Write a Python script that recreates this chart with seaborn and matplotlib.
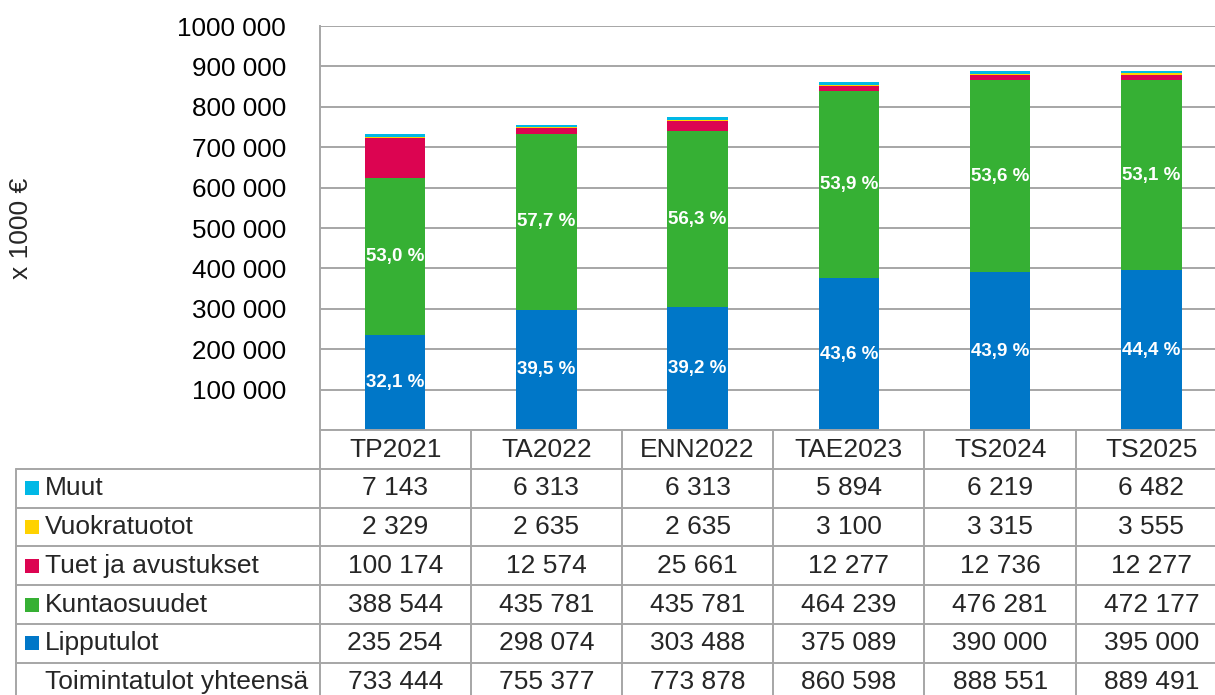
import matplotlib
matplotlib.use("Agg")
import matplotlib.pyplot as plt
import matplotlib.transforms as mtransforms
from matplotlib.patches import Rectangle
import seaborn as sns
import numpy as np

categories = ["TP2021", "TA2022", "ENN2022", "TAE2023", "TS2024", "TS2025"]
lipputulot = [235254, 298074, 303488, 375089, 390000, 395000]
kuntaosuudet = [388544, 435781, 435781, 464239, 476281, 472177]
tuet = [100174, 12574, 25661, 12277, 12736, 12277]
vuokratuotot = [2329, 2635, 2635, 3100, 3315, 3555]
muut = [7143, 6313, 6313, 5894, 6219, 6482]
totals = [733444, 755377, 773878, 860598, 888551, 889491]

series_names = ["Lipputulot", "Kuntaosuudet", "Tuet ja avustukset", "Vuokratuotot", "Muut"]
series_values = [lipputulot, kuntaosuudet, tuet, vuokratuotot, muut]
colors = ["#0077C8", "#36B034", "#DC0451", "#FFD200", "#00B8E6"]

sns.set_style("white")
plt.rcParams["font.family"] = ["Liberation Sans", "DejaVu Sans"]

W, H = 1215, 695
fig = plt.figure(figsize=(W / 100, H / 100), dpi=100)
ax_left, ax_right, ax_top, ax_bottom = 319.5, 1227.0, 26.0, 430.0
ax = fig.add_axes([ax_left / W, 1 - ax_bottom / H, (ax_right - ax_left) / W, (ax_bottom - ax_top) / H])

grid_c = "#A6A6A6"
ax.set_axisbelow(True)
ax.yaxis.grid(True, color=grid_c, linewidth=1.4)

bottom = np.zeros(len(categories))
for name, vals, col in zip(series_names, series_values, colors):
    sns.barplot(x=categories, y=vals, bottom=bottom, color=col, width=0.4,
                ax=ax, linewidth=0, saturation=1, errorbar=None)
    bottom = bottom + np.array(vals)

ax.set_xlim(-0.5, 5.5)
ax.set_ylim(0, 1000000)
yt = list(range(0, 1000001, 100000))
ax.set_yticks(yt)
ax.set_yticklabels(["" if v == 0 else f"{v // 1000} 000" for v in yt])
ax.tick_params(axis="y", length=7, width=1.4, color=grid_c, labelsize=18.7, pad=17, labelcolor="#000000")
ax.tick_params(axis="x", length=0, labelbottom=False)
ax.set_xlabel("")
ax.set_ylabel("")
for s in ["top", "right"]:
    ax.spines[s].set_visible(False)
for s in ["left", "bottom"]:
    ax.spines[s].set_color(grid_c)
    ax.spines[s].set_linewidth(1.4)

# percentage labels
tot_arr = np.array(lipputulot) + np.array(kuntaosuudet) + np.array(tuet) + np.array(vuokratuotot) + np.array(muut)
for i in range(len(categories)):
    p1 = lipputulot[i] / tot_arr[i] * 100
    p2 = kuntaosuudet[i] / tot_arr[i] * 100
    ax.text(i, lipputulot[i] / 2, f"{p1:.1f} %".replace(".", ","), ha="center", va="center",
            color="white", fontsize=13.5, fontweight="bold")
    ax.text(i, lipputulot[i] + kuntaosuudet[i] / 2, f"{p2:.1f} %".replace(".", ","), ha="center", va="center",
            color="white", fontsize=13.5, fontweight="bold")

fig.text(20.5 / W, 1 - 228 / H, "x 1000 €", rotation=90, ha="center", va="center", fontsize=19)

# data table below
col_w = (ax_right - ax_left) / 6.0
def xd(px):
    return -0.5 + (px - ax_left) / col_w
def ya(py):
    return (ax_bottom - py) / (ax_bottom - ax_top)

trans = mtransforms.blended_transform_factory(ax.transData, ax.transAxes)
row_h = 38.8
row_tops = [430 + k * row_h for k in range(8)]
x_left_border = xd(15.5)
lw = 1.4

# horizontal lines
for k in range(1, 7):
    ax.plot([x_left_border, 5.5], [ya(row_tops[k])] * 2, color=grid_c, lw=lw, transform=trans, clip_on=False)
# vertical lines
for k in range(7):
    ax.plot([k - 0.5, k - 0.5], [ya(430), ya(row_tops[7])], color=grid_c, lw=lw, transform=trans, clip_on=False)
ax.plot([x_left_border] * 2, [ya(row_tops[1]), ya(row_tops[7])], color=grid_c, lw=lw, transform=trans, clip_on=False)

fs = 19
for i, c in enumerate(categories):
    ax.text(i, ya(row_tops[0] + row_h / 2 + 0.5), c, ha="center", va="center", fontsize=fs, transform=trans, clip_on=False)

table_rows = [("Muut", muut, colors[4]), ("Vuokratuotot", vuokratuotot, colors[3]),
              ("Tuet ja avustukset", tuet, colors[2]), ("Kuntaosuudet", kuntaosuudet, colors[1]),
              ("Lipputulot", lipputulot, colors[0]), ("Toimintatulot yhteensä", totals, None)]

def fmt(v):
    return f"{v:,}".replace(",", " ")

for r, (name, vals, col) in enumerate(table_rows):
    yc = row_tops[r + 1] + row_h / 2
    if col is not None:
        y0 = ya(yc + 7)
        y1 = ya(yc - 7)
        ax.add_patch(Rectangle((xd(25), y0), xd(39) - xd(25), y1 - y0, transform=trans,
                               facecolor=col, edgecolor="none", clip_on=False))
    ax.text(xd(45), ya(yc), name, ha="left", va="center", fontsize=fs, transform=trans, clip_on=False)
    for i, v in enumerate(vals):
        ax.text(i, ya(yc), fmt(v), ha="center", va="center", fontsize=fs, transform=trans, clip_on=False)

fig.savefig("out.png", dpi=100)
